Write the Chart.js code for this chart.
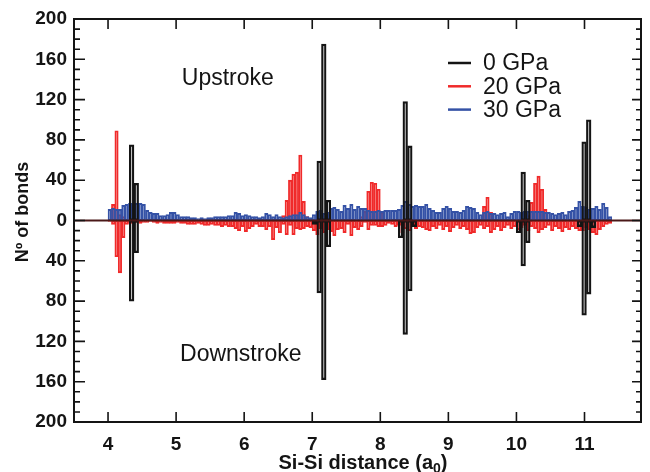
<!DOCTYPE html>
<html><head><meta charset="utf-8">
<script src="https://cdn.jsdelivr.net/npm/chart.js@4.4.1/dist/chart.umd.min.js"></script>
<style>html,body{margin:0;padding:0;background:#fff;}#wrap{width:650px;height:472px;}</style>
</head><body><div id="wrap"><canvas id="c" width="650" height="472"></canvas></div>
<script>
// ---------- data ----------
const xTickLabels = [4, 5, 6, 7, 8, 9, 10, 11];
const yMin = -200, yMax = 200, yStep = 40, yMinorStep = 10;
const seriesNames = ['0 GPa', '20 GPa', '30 GPa'];
const seriesColors = ['#141414', '#f02a2a', '#3552a6'];

// 0 GPa (crystal shells): bin centres, upstroke and downstroke counts
const bins0  = [4.347, 4.415, 7.034, 7.102, 7.170, 7.238, 8.298, 8.366, 8.434, 8.502, 10.031, 10.099, 10.167, 10.926, 10.994, 11.062, 11.130];
const up0    = [75, 37, 0, 59, 175, 20, 0, 118, 74, 0, 0, 48, 20, 0, 78, 100, 0];
const down0  = [80, 32, 4, 72, 158, 26, 17, 113, 70, 6, 12, 45, 22, 6, 94, 73, 7];

// 20 GPa and 30 GPa histograms: bins of 0.05 a0 starting at 4.0
const binStart = 4.0, binWidth = 0.05;
const up20 = [
  0,16,89,6,4,0,0,0,0,0,
  0,0,0,0,0,0,0,0,0,0,
  0,0,0,0,0,0,0,0,0,0,
  0,0,0,0,0,0,0,0,0,0,
  0,0,0,0,0,0,0,0,0,0,
  0,5,20,40,46,48,65,19,4,0,
  0,0,0,0,0,0,0,0,0,0,
  0,0,0,0,4,9,29,38,37,31,
  8,0,0,0,0,0,0,0,0,0,
  0,0,0,0,0,0,0,0,0,0,
  0,0,0,0,0,0,0,0,0,0,
  14,23,8,0,0,0,0,0,0,0,
  0,0,0,5,18,37,44,31,11,0,
  0,0,0,0,0,0,0,0,0,0,
  0,0,0,0,0,0,0,0
];
const down20 = [
  1,4,36,52,17,4,3,3,2,3,
  2,2,1,2,3,2,3,3,3,3,
  2,3,3,4,4,4,3,4,5,5,
  4,5,5,6,5,6,6,8,10,6,
  11,8,6,4,6,6,9,6,19,7,
  12,4,14,5,14,8,9,8,6,7,
  10,14,8,12,9,11,15,9,8,12,
  4,15,7,9,6,2,9,5,5,6,
  6,5,3,4,6,5,12,8,10,6,
  8,6,7,9,10,6,8,5,9,6,
  11,7,5,8,6,9,13,12,7,5,
  8,6,12,9,6,10,7,5,8,6,
  9,7,5,10,6,8,12,9,7,5,
  10,6,8,11,7,9,6,8,10,10,
  7,9,12,14,9,6,4,3
];
const up30 = [
  11,12,11,11,15,16,17,16,17,17,
  16,10,8,7,7,5,5,6,8,8,
  6,4,4,4,3,3,2,3,2,3,
  3,4,4,4,4,5,5,8,7,5,
  6,5,4,4,3,4,7,6,4,6,
  4,3,4,5,6,6,8,6,4,3,
  6,9,10,7,8,12,13,11,9,15,
  12,16,11,14,12,12,10,9,9,10,
  9,10,10,10,10,11,15,19,16,14,
  15,14,14,16,12,10,8,8,12,14,
  12,9,9,8,10,14,13,12,8,6,
  8,9,7,7,6,7,8,4,7,9,
  9,8,9,9,9,9,9,9,8,8,
  7,6,7,8,6,9,10,13,19,14,
  13,11,12,14,11,17,13,4
];

const annotations = [
  {text: 'Upstroke',   x: 5.76, y: 141},
  {text: 'Downstroke', x: 5.95, y: -133}
];

// ---------- build ----------
const toPts = (xs, vals, sign) => vals.map((v, i) => ({x: xs(i), y: v ? sign * v : null}));
const x0 = i => bins0[i];
const xh = i => binStart + binWidth * (i + 0.5);

function barSet(label, color, data, xAxis, bw) {
  return {
    type: 'bar', label, data, xAxisID: xAxis,
    backgroundColor: 'rgba(0,0,0,0)', borderColor: color, borderWidth: bw,
    borderSkipped: false, grouped: false, barPercentage: 1, categoryPercentage: 1
  };
}

const datasets = [
  barSet(seriesNames[0], seriesColors[0], toPts(x0, up0, 1), 'x', 1.6),
  barSet(seriesNames[0], seriesColors[0], toPts(x0, down0, -1), 'x', 1.6),
  barSet(seriesNames[2], seriesColors[2], toPts(xh, up30, 1), 'x2', 1.2),
  barSet(seriesNames[1], seriesColors[1], toPts(xh, up20, 1), 'x2', 1.2),
  barSet(seriesNames[1], seriesColors[1], toPts(xh, down20, -1), 'x2', 1.2)
];

const FONT = "'Liberation Sans', Arial, Helvetica, sans-serif";

const decor = {
  id: 'decor',
  afterDatasetsDraw(chart) {
    const {ctx, chartArea: a, scales: {x, y}} = chart;
    ctx.save();
    // zero line
    const y0 = y.getPixelForValue(0);
    ctx.strokeStyle = '#4a1818'; ctx.lineWidth = 2;
    ctx.beginPath(); ctx.moveTo(a.left, y0); ctx.lineTo(a.right, y0); ctx.stroke();
    // frame
    ctx.strokeStyle = '#141414'; ctx.lineWidth = 2;
    ctx.strokeRect(a.left, a.top, a.right - a.left, a.bottom - a.top);
    // inward ticks
    ctx.lineWidth = 1.6;
    ctx.beginPath();
    xTickLabels.forEach(v => {
      const px = x.getPixelForValue(v);
      ctx.moveTo(px, a.bottom); ctx.lineTo(px, a.bottom - 10);
      ctx.moveTo(px, a.top); ctx.lineTo(px, a.top + 10);
    });
    for (let v = yMin; v <= yMax; v += yMinorStep) {
      const major = v % yStep === 0;
      const py = y.getPixelForValue(v);
      ctx.moveTo(a.left, py); ctx.lineTo(a.left + (major ? 11 : 6), py);
      ctx.moveTo(a.right, py); ctx.lineTo(a.right - (major ? 9 : 5), py);
    }
    ctx.stroke();

    ctx.fillStyle = '#141414';
    // annotations
    ctx.font = '23px ' + FONT;
    ctx.textAlign = 'center'; ctx.textBaseline = 'middle';
    annotations.forEach(t => ctx.fillText(t.text, x.getPixelForValue(t.x), y.getPixelForValue(t.y)));

    // legend
    [0, 1, 2].forEach((k, i) => {
      const ly = 63 + i * 23.3;
      ctx.strokeStyle = seriesColors[k]; ctx.lineWidth = 2.5;
      ctx.beginPath(); ctx.moveTo(448, ly); ctx.lineTo(471, ly); ctx.stroke();
      ctx.fillStyle = '#141414';
      ctx.textAlign = 'left'; ctx.textBaseline = 'middle';
      ctx.font = '23px ' + FONT;
      ctx.fillText(seriesNames[k], 483, ly + 1);
    });

    // y title
    ctx.save();
    ctx.translate(28, 212); ctx.rotate(-Math.PI / 2);
    ctx.font = 'bold 18px ' + FONT; ctx.textAlign = 'center'; ctx.textBaseline = 'alphabetic';
    ctx.fillText('N\u00BA of bonds', 0, 0);
    ctx.restore();

    // x title with subscript
    const main = 'Si-Si distance (a', sub = '0', close = ')';
    ctx.font = 'bold 20px ' + FONT;
    const w1 = ctx.measureText(main).width, w3 = ctx.measureText(close).width;
    ctx.font = 'bold 14px ' + FONT;
    const w2 = ctx.measureText(sub).width;
    let sx = 363 - (w1 + w2 + w3) / 2;
    const by = 469;
    ctx.textAlign = 'left'; ctx.textBaseline = 'alphabetic';
    ctx.font = 'bold 20px ' + FONT; ctx.fillText(main, sx, by); sx += w1;
    ctx.font = 'bold 14px ' + FONT; ctx.fillText(sub, sx, by + 4); sx += w2;
    ctx.font = 'bold 20px ' + FONT; ctx.fillText(close, sx, by);
    ctx.restore();
  }
};

new Chart(document.getElementById('c'), {
  type: 'bar',
  data: {datasets},
  options: {
    responsive: false, animation: false, devicePixelRatio: 1,
    layout: {padding: {top: 19, right: 9, left: 0, bottom: 0}},
    plugins: {legend: {display: false}, tooltip: {enabled: false}},
    scales: {
      x: {
        type: 'linear', min: 3.5, max: 11.83, offset: false,
        afterBuildTicks: s => { s.ticks = xTickLabels.map(v => ({value: v})); },
        ticks: {font: {family: FONT, size: 19, weight: 'bold'}, color: '#141414', padding: 11, maxRotation: 0, autoSkip: false},
        grid: {display: false, drawTicks: false}, border: {display: false},
        afterFit: s => { s.height = 50; }
      },
      x2: {type: 'linear', min: 3.5, max: 11.83, offset: false, display: false},
      y: {
        min: yMin, max: yMax,
        ticks: {stepSize: yStep, callback: v => Math.abs(v), font: {family: FONT, size: 19, weight: 'bold'}, color: '#141414', padding: 7},
        grid: {display: false, drawTicks: false}, border: {display: false},
        afterFit: s => { s.width = 74; }
      }
    }
  },
  plugins: [decor]
});
</script></body></html>
